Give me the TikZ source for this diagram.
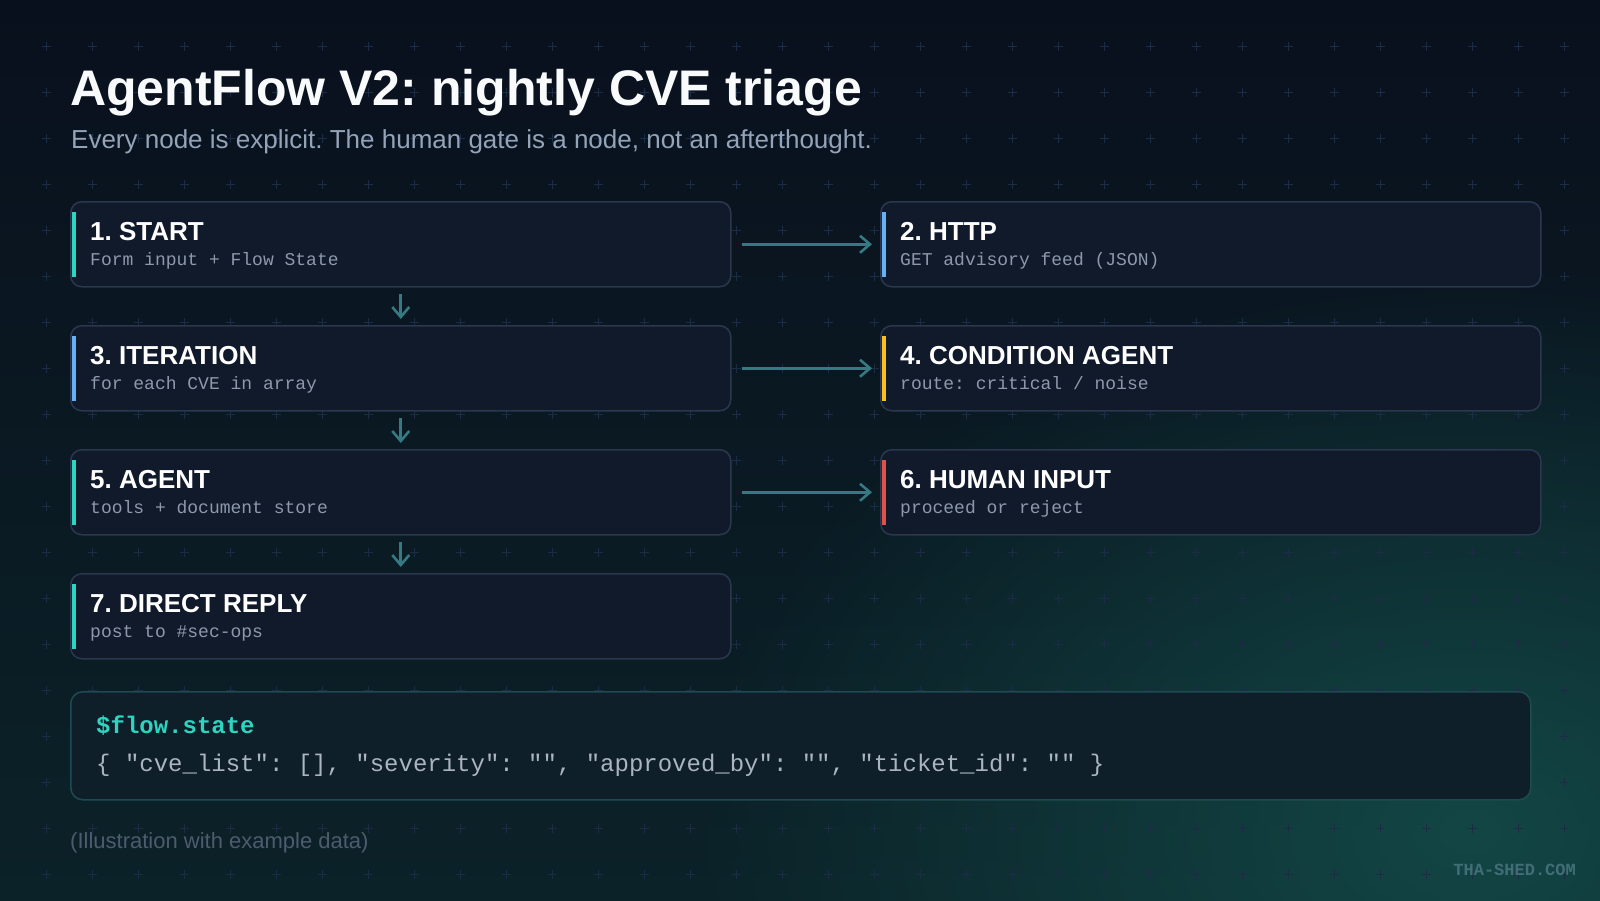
\documentclass[tikz,border=0pt]{standalone}
\usepackage{fontspec}
\setmainfont{Liberation Sans}
\setmonofont{Liberation Mono}
\usetikzlibrary{arrows.meta,fadings}
\frenchspacing
\tikzfading[name=glowfade, inner color=transparent!0, outer color=transparent!100]
\definecolor{bgtop}{HTML}{09101D}
\definecolor{bgbot}{HTML}{0B2228}
\definecolor{glow}{HTML}{15504D}
\definecolor{gridc}{HTML}{1C2C44}
\definecolor{cardfill}{HTML}{111A2A}
\definecolor{cardline}{HTML}{2A374F}
\definecolor{subgray}{HTML}{8D99AB}
\definecolor{arrowc}{HTML}{357A82}
\definecolor{accteal}{HTML}{2DD4BF}
\definecolor{accblue}{HTML}{66B0F6}
\definecolor{accamber}{HTML}{FBBF24}
\definecolor{accred}{HTML}{E2504A}
\definecolor{statefill}{HTML}{0F1F29}
\definecolor{stateline}{HTML}{1E4B51}
\definecolor{jsontext}{HTML}{AAB4C3}
\definecolor{footc}{HTML}{4D5B6E}
\definecolor{brandc}{HTML}{416E76}
\definecolor{titlec}{HTML}{F8FAFC}
\definecolor{subtc}{HTML}{94A3B8}
\tikzset{
  card/.style={draw=cardline, fill=cardfill, line width=1.5pt, rounded corners=11pt,
    minimum width=660pt, minimum height=85pt, inner sep=0pt, anchor=north west},
  ctitle/.style={anchor=base west, inner sep=0pt, text=white,
    font=\bfseries\fontsize{26}{30}\selectfont},
  csub/.style={anchor=base west, inner sep=0pt, text=subgray,
    font=\ttfamily\fontsize{18}{22}\selectfont},
  flow/.style={draw=arrowc, line width=2.6pt,
    -{Straight Barb[length=10pt,width=17pt,line width=2.6pt]}},
  statebox/.style={draw=stateline, fill=statefill, line width=1.5pt, rounded corners=12pt,
    minimum width=1460pt, minimum height=108pt, inner sep=0pt, anchor=north west},
}
\newcommand\flowcard[6]{%
  \node[card] (#1) at (#2,#3) {};
  \fill[#4] ([xshift=2pt,yshift=-11pt]#1.north west) rectangle ([xshift=6pt,yshift=11pt]#1.south west);
  \node[ctitle] (#1t) at ([xshift=20pt,yshift=-39pt]#1.north west) {#5};
  \node[csub] (#1s) at ([xshift=20pt,yshift=-64pt]#1.north west) {#6};
}
\begin{document}
\begin{tikzpicture}[x=1pt,y=-1pt]
\useasboundingbox (0,0) rectangle (1600,900);
% background
\shade[top color=bgtop, bottom color=bgbot] (0,0) rectangle (1600,900);
\fill[glow, path fading=glowfade, opacity=0.8] (1470,830) ellipse [x radius=780, y radius=560];
% grid of plus marks
\foreach \i in {1,...,34}{\foreach \j in {1,...,19}{
  \draw[gridc, line width=1pt] (46*\i-4.5,46*\j) -- ++(9,0) (46*\i,46*\j-4.5) -- ++(0,9);
}}
% titles
\node[anchor=base west, inner sep=0pt, text=titlec, font=\bfseries\fontsize{50}{60}\selectfont]
  (title) at (70,105) {AgentFlow V2: nightly CVE triage};
\node[anchor=base west, inner sep=0pt, text=subtc, font=\fontsize{26}{30}\selectfont]
  (subtitle) at (71,148) {Every node is explicit. The human gate is a node, not an afterthought.};
% cards
\flowcard{b1}{70}{201}{accteal}{1. START}{Form input + Flow State}
\flowcard{b2}{880}{201}{accblue}{2. HTTP}{GET advisory feed (JSON)}
\flowcard{b3}{70}{325}{accblue}{3. ITERATION}{for each CVE in array}
\flowcard{b4}{880}{325}{accamber}{4. CONDITION AGENT}{route: critical / noise}
\flowcard{b5}{70}{449}{accteal}{5. AGENT}{tools + document store}
\flowcard{b6}{880}{449}{accred}{6. HUMAN INPUT}{proceed or reject}
\flowcard{b7}{70}{573}{accteal}{7. DIRECT REPLY}{post to \#sec-ops}
% connectors
\draw[flow] ([xshift=10pt]b1.east) -- ([xshift=-8pt]b2.west);
\draw[flow] ([xshift=10pt]b3.east) -- ([xshift=-8pt]b4.west);
\draw[flow] ([xshift=10pt]b5.east) -- ([xshift=-8pt]b6.west);
\draw[flow] ([yshift=-6pt]b1.south) -- ([yshift=6pt]b3.north);
\draw[flow] ([yshift=-6pt]b3.south) -- ([yshift=6pt]b5.north);
\draw[flow] ([yshift=-6pt]b5.south) -- ([yshift=6pt]b7.north);
% flow state box
\node[statebox] (st) at (70,691) {};
\node[anchor=base west, inner sep=0pt, text=accteal, font=\ttfamily\bfseries\fontsize{24}{28}\selectfont]
  (stk) at ([xshift=26pt,yshift=-42pt]st.north west) {\$flow.state};
\node[anchor=base west, inner sep=0pt, text=jsontext, font=\ttfamily\fontsize{24}{28}\selectfont]
  (stv) at ([xshift=26pt,yshift=-80pt]st.north west)
  {\{ "cve\_list": [], "severity": "", "approved\_by": "", "ticket\_id": "" \}};
% footer
\node[anchor=base west, inner sep=0pt, text=footc, font=\fontsize{22}{26}\selectfont]
  (foot) at (70,848) {(Illustration with example data)};
\node[anchor=base east, inner sep=0pt, text=brandc, font=\ttfamily\bfseries\fontsize{17}{20}\selectfont]
  (brand) at (1576,875) {THA-SHED.COM};
\end{tikzpicture}
\end{document}
